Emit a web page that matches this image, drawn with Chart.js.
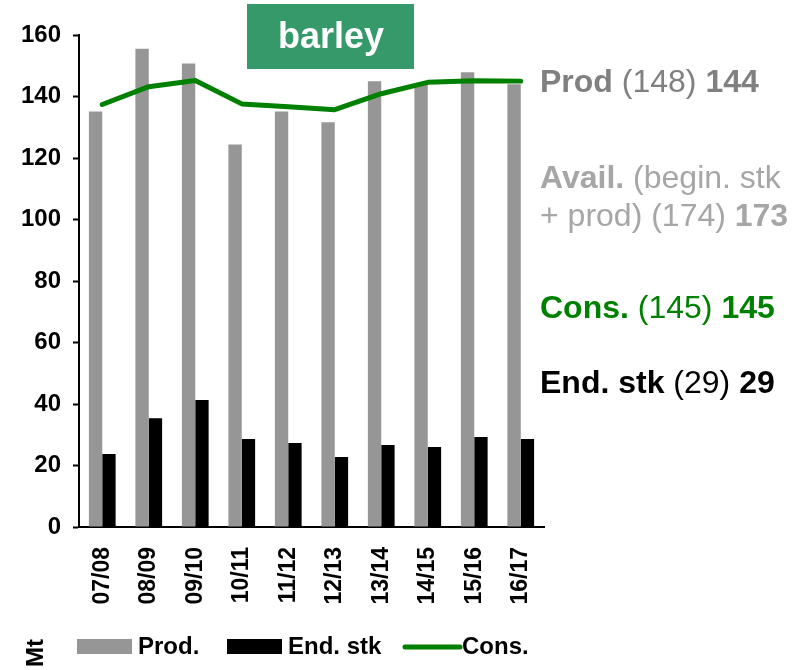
<!DOCTYPE html>
<html>
<head>
<meta charset="utf-8">
<script src="https://cdn.jsdelivr.net/npm/chart.js@4.4.0/dist/chart.umd.min.js"></script>
<style>
  body { margin: 0; background: #fff; }
  #wrap { width: 800px; height: 670px; position: relative; }
</style>
</head>
<body>
<div id="wrap"><canvas id="barleyChart"></canvas></div>
<script>
// Barley balance, million tonnes
const seasons = ['07/08', '08/09', '09/10', '10/11', '11/12', '12/13', '13/14', '14/15', '15/16', '16/17'];
const production = [135.1, 155.5, 150.7, 124.4, 135.1, 131.6, 145.0, 144.2, 147.9, 144.0];
const endStocks = [23.7, 35.4, 41.3, 28.6, 27.3, 22.8, 26.7, 26.0, 29.3, 28.6];
const consumption = [137.4, 143.2, 145.2, 137.6, 136.7, 135.7, 140.9, 144.6, 145.1, 145.0];

const yMin = 0;
const yMax = 160;
const yStep = 20;

const FONT = '"Liberation Sans", Arial, sans-serif';

// right-hand notes: [text, bold?] pieces per line
const notes = [
  { color: '#808080', y: 92, parts: [['Prod', true], [' (148) ', false], ['144', true]] },
  { color: '#a6a6a6', y: 188, parts: [['Avail.', true], [' (begin. stk', false]] },
  { color: '#a6a6a6', y: 226, parts: [['+ prod) (174) ', false], ['173', true]] },
  { color: '#008000', y: 318, parts: [['Cons.', true], [' (145) ', false], ['145', true]] },
  { color: '#000000', y: 393, parts: [['End. stk', true], [' (29) ', false], ['29', true]] }
];

const extrasPlugin = {
  id: 'extras',
  afterDraw(chart) {
    const ctx = chart.ctx;
    ctx.save();

    // title box
    ctx.fillStyle = '#36996a';
    ctx.fillRect(247, 4, 167, 65);
    ctx.fillStyle = '#ffffff';
    ctx.font = 'bold 36px ' + FONT;
    ctx.textAlign = 'center';
    ctx.textBaseline = 'middle';
    ctx.fillText('barley', 331, 38);

    // notes on the right
    ctx.textAlign = 'left';
    ctx.textBaseline = 'alphabetic';
    notes.forEach(n => {
      let x = 540;
      ctx.fillStyle = n.color;
      n.parts.forEach(([txt, bold]) => {
        ctx.font = (bold ? 'bold ' : '') + '32px ' + FONT;
        ctx.fillText(txt, x, n.y);
        x += ctx.measureText(txt).width;
      });
    });

    // legend
    ctx.font = 'bold 24px ' + FONT;
    ctx.fillStyle = '#000';
    ctx.save();
    ctx.translate(43, 653);
    ctx.rotate(-Math.PI / 2);
    ctx.textAlign = 'center';
    ctx.fillText('Mt', 0, 0);
    ctx.restore();

    ctx.fillStyle = '#969696';
    ctx.fillRect(77, 639, 55, 15);
    ctx.fillStyle = '#000';
    ctx.fillText('Prod.', 138, 654);
    ctx.fillRect(227, 639, 55, 15);
    ctx.fillText('End. stk', 288, 654);
    ctx.strokeStyle = '#008000';
    ctx.lineWidth = 5;
    ctx.lineCap = 'round';
    ctx.beginPath();
    ctx.moveTo(405, 647);
    ctx.lineTo(460, 647);
    ctx.stroke();
    ctx.fillText('Cons.', 462, 654);

    ctx.restore();
  }
};

function drawChart() {
  const ctx = document.getElementById('barleyChart').getContext('2d');

  new Chart(ctx, {
    type: 'bar',
    data: {
      labels: seasons,
      datasets: [
        {
          type: 'line',
          label: 'Cons.',
          data: consumption,
          borderColor: '#008000',
          borderWidth: 5,
          pointRadius: 0,
          tension: 0,
          borderCapStyle: 'round',
          borderJoinStyle: 'round',
          order: 0
        },
        {
          label: 'Prod.',
          data: production,
          backgroundColor: '#969696',
          categoryPercentage: 0.575,
          barPercentage: 1,
          order: 1
        },
        {
          label: 'End. stk',
          data: endStocks,
          backgroundColor: '#000000',
          categoryPercentage: 0.575,
          barPercentage: 1,
          order: 1
        }
      ]
    },
    options: {
      responsive: true,
      maintainAspectRatio: false,
      animation: false,
      layout: {
        padding: { top: 35, right: 256, left: 0, bottom: 0 }
      },
      scales: {
        x: {
          grid: { display: false, drawTicks: false },
          border: { color: '#000', width: 2 },
          ticks: {
            color: '#000',
            font: { family: FONT, size: 23, weight: 'bold' },
            minRotation: 90,
            maxRotation: 90,
            padding: 20,
            autoSkip: false
          },
          afterFit: scale => { scale.height = 143; }
        },
        y: {
          min: yMin,
          max: yMax,
          grid: { drawOnChartArea: false, tickLength: 6, color: '#000', tickWidth: 2 },
          border: { color: '#000', width: 2 },
          ticks: {
            stepSize: yStep,
            color: '#000',
            padding: 12,
            font: { family: FONT, size: 24, weight: 'bold' }
          },
          afterFit: scale => { scale.width = 79; }
        }
      },
      plugins: {
        legend: { display: false },
        tooltip: { enabled: false }
      }
    },
    plugins: [extrasPlugin]
  });
}

window.onload = drawChart;
</script>
</body>
</html>
